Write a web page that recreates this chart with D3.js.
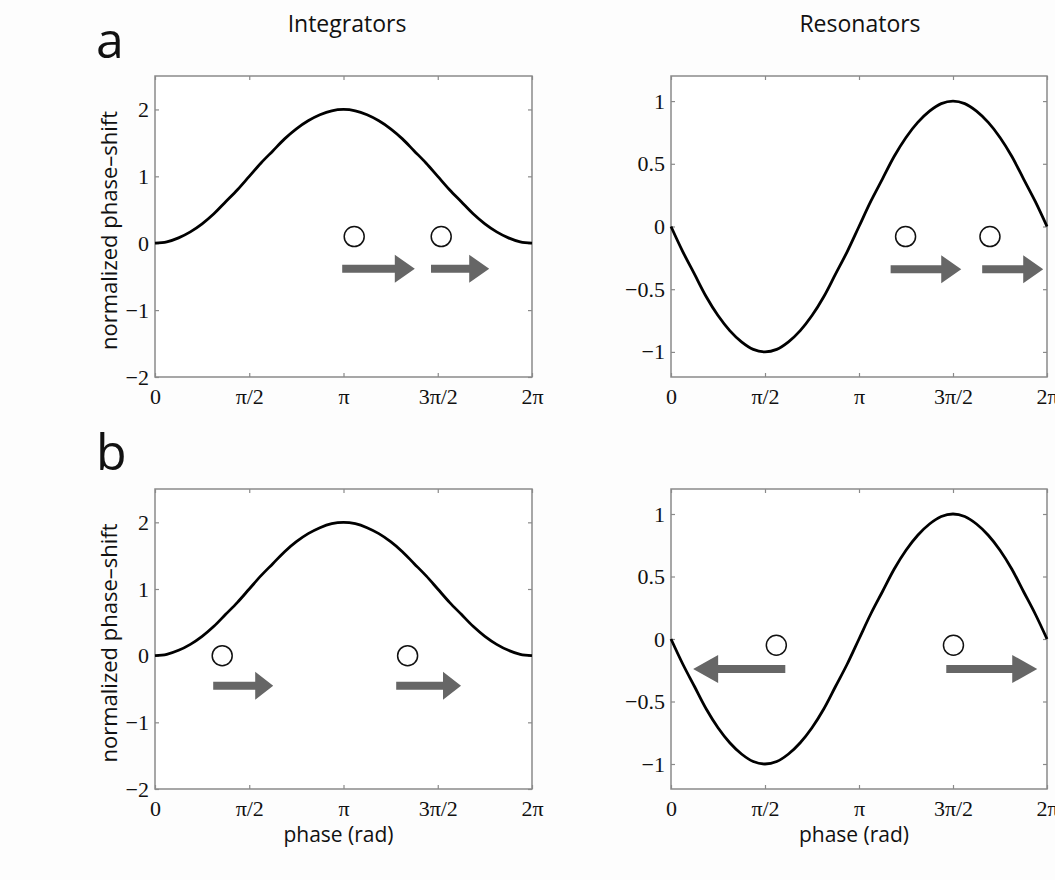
<!DOCTYPE html>
<html>
<head>
<meta charset="utf-8">
<script src="https://cdn.jsdelivr.net/npm/d3@7"></script>
<style>
  body { margin: 0; background: #fdfdfd; }
  svg { display: block; }
  .tick text { font-family: "Liberation Serif", "Times New Roman", serif; font-size: 22px; fill: #111; }
  .label { font-family: "Open Sans", sans-serif; fill: #111; }
</style>
</head>
<body>
<div id="chart"></div>
<script>
// phase samples, every pi/16 from 0 to 2pi
const phaseSteps = d3.range(33);
// values
const integratorPRC = [0, 0.02, 0.08, 0.17, 0.29, 0.44, 0.62, 0.8, 1, 1.2, 1.38, 1.56, 1.71, 1.83, 1.92, 1.98, 2,
  1.98, 1.92, 1.83, 1.71, 1.56, 1.38, 1.2, 1, 0.8, 0.62, 0.44, 0.29, 0.17, 0.08, 0.02, 0];
const resonatorPRC = [0, -0.2, -0.38, -0.56, -0.71, -0.83, -0.92, -0.98, -1, -0.98, -0.92, -0.83, -0.71, -0.56, -0.38, -0.2, 0,
  0.2, 0.38, 0.56, 0.71, 0.83, 0.92, 0.98, 1, 0.98, 0.92, 0.83, 0.71, 0.56, 0.38, 0.2, 0];

const xTickValues = [0, Math.PI / 2, Math.PI, 3 * Math.PI / 2, 2 * Math.PI];
const xTickLabels = ["0", "π/2", "π", "3π/2", "2π"];
const integratorYTicks = [-2, -1, 0, 1, 2];
const resonatorYTicks = [-1, -0.5, 0, 0.5, 1];

// input markers (circles) [phase, value] per panel
const circlesA1 = [[3.32, 0.1], [4.77, 0.1]];
const circlesA2 = [[3.92, -0.08], [5.33, -0.08]];
const circlesB1 = [[1.12, 0], [4.21, 0]];
const circlesB2 = [[1.76, -0.05], [4.72, -0.05]];

// shifts (arrows) [from phase, to phase, value] per panel
const arrowsA1 = [[3.12, 4.33, -0.38], [4.6, 5.57, -0.38]];
const arrowsA2 = [[3.67, 4.85, -0.34], [5.2, 6.22, -0.34]];
const arrowsB1 = [[0.97, 1.97, -0.45], [4.02, 5.1, -0.45]];
const arrowsB2 = [[1.91, 0.37, -0.24], [4.6, 6.12, -0.24]];

const W = 1055, H = 880;
const svg = d3.select("#chart").append("svg").attr("width", W).attr("height", H);

const fmtY = (d) => (d < 0 ? "\u2212" + Math.abs(d) : "" + d);

const panels = [
  { x0: 155, x1: 532, y0: 76, y1: 377, domain: [-2, 2.5], ticks: integratorYTicks, values: integratorPRC,
    circles: circlesA1, arrows: arrowsA1, head: 20, ylabel: true, xlabel: false },
  { x0: 671, x1: 1047, y0: 76, y1: 377, domain: [-1.2, 1.2], ticks: resonatorYTicks, values: resonatorPRC,
    circles: circlesA2, arrows: arrowsA2, head: 20, ylabel: false, xlabel: false },
  { x0: 155, x1: 532, y0: 489, y1: 789, domain: [-2, 2.5], ticks: integratorYTicks, values: integratorPRC,
    circles: circlesB1, arrows: arrowsB1, head: 18, ylabel: true, xlabel: true },
  { x0: 671, x1: 1047, y0: 489, y1: 789, domain: [-1.2, 1.2], ticks: resonatorYTicks, values: resonatorPRC,
    circles: circlesB2, arrows: arrowsB2, head: 25, ylabel: false, xlabel: true },
];

const axisColor = "#8a8a8a";

panels.forEach((p) => {
  const x = d3.scaleLinear().domain([0, 2 * Math.PI]).range([p.x0, p.x1]);
  const y = d3.scaleLinear().domain(p.domain).range([p.y1, p.y0]);
  const g = svg.append("g");

  // box
  g.append("rect")
    .attr("x", p.x0).attr("y", p.y0)
    .attr("width", p.x1 - p.x0).attr("height", p.y1 - p.y0)
    .attr("fill", "#fff").attr("stroke", axisColor).attr("stroke-width", 1.5);

  const xb = g.append("g").attr("transform", `translate(0,${p.y1})`)
    .call(d3.axisBottom(x).tickValues(xTickValues).tickFormat((d, i) => xTickLabels[i])
      .tickSizeInner(-4).tickSizeOuter(0).tickPadding(11));
  const xt = g.append("g").attr("transform", `translate(0,${p.y0})`)
    .call(d3.axisTop(x).tickValues(xTickValues).tickFormat("").tickSizeInner(-4).tickSizeOuter(0));
  const yl = g.append("g").attr("transform", `translate(${p.x0},0)`)
    .call(d3.axisLeft(y).tickValues(p.ticks).tickFormat(fmtY).tickSizeInner(-4).tickSizeOuter(0).tickPadding(6));
  const yr = g.append("g").attr("transform", `translate(${p.x1},0)`)
    .call(d3.axisRight(y).tickValues(p.ticks).tickFormat("").tickSizeInner(-4).tickSizeOuter(0));

  [xb, xt, yl, yr].forEach((a) => {
    a.select(".domain").remove();
    a.selectAll(".tick line").attr("stroke", axisColor).attr("stroke-width", 1.2);
    a.attr("font-family", null).attr("font-size", null);
  });

  // curve
  const line = d3.line()
    .x((d, i) => x(phaseSteps[i] * Math.PI / 16))
    .y((d) => y(d))
    .curve(d3.curveCatmullRom);
  g.append("path").datum(p.values)
    .attr("fill", "none").attr("stroke", "#000").attr("stroke-width", 2.8)
    .attr("d", line);

  // inputs
  g.selectAll(".inp").data(p.circles).enter().append("circle")
    .attr("cx", (d) => x(d[0])).attr("cy", (d) => y(d[1])).attr("r", 10)
    .attr("fill", "#fff").attr("stroke", "#111").attr("stroke-width", 1.5);

  // shifts
  const sw = 4, hw = 14;
  g.selectAll(".arr").data(p.arrows).enter().append("path")
    .attr("fill", "#666")
    .attr("d", (d) => {
      const a = x(d[0]), b = x(d[1]), yy = y(d[2]);
      const dir = b > a ? 1 : -1;
      const hb = b - dir * p.head;
      return `M${a},${yy - sw}L${hb},${yy - sw}L${hb},${yy - hw}L${b},${yy}L${hb},${yy + hw}L${hb},${yy + sw}L${a},${yy + sw}Z`;
    });

  if (p.ylabel) {
    g.append("text").attr("class", "label")
      .attr("transform", `translate(117,${(p.y0 + p.y1) / 2 + 4}) rotate(-90)`)
      .attr("text-anchor", "middle").attr("font-size", 22)
      .text("normalized phase\u2013shift");
  }
  if (p.xlabel) {
    g.append("text").attr("class", "label")
      .attr("x", (p.x0 + p.x1) / 2 - 5).attr("y", 842)
      .attr("text-anchor", "middle").attr("font-size", 21)
      .text("phase (rad)");
  }
});

// column titles and panel letters
svg.append("text").attr("class", "label").attr("x", 347).attr("y", 32)
  .attr("text-anchor", "middle").attr("font-size", 23).text("Integrators");
svg.append("text").attr("class", "label").attr("x", 860).attr("y", 32)
  .attr("text-anchor", "middle").attr("font-size", 23).text("Resonators");
svg.append("text").attr("class", "label").attr("x", 96).attr("y", 58)
  .attr("font-size", 50).text("a");
svg.append("text").attr("class", "label").attr("x", 96).attr("y", 470)
  .attr("font-size", 50).text("b");
</script>
</body>
</html>
